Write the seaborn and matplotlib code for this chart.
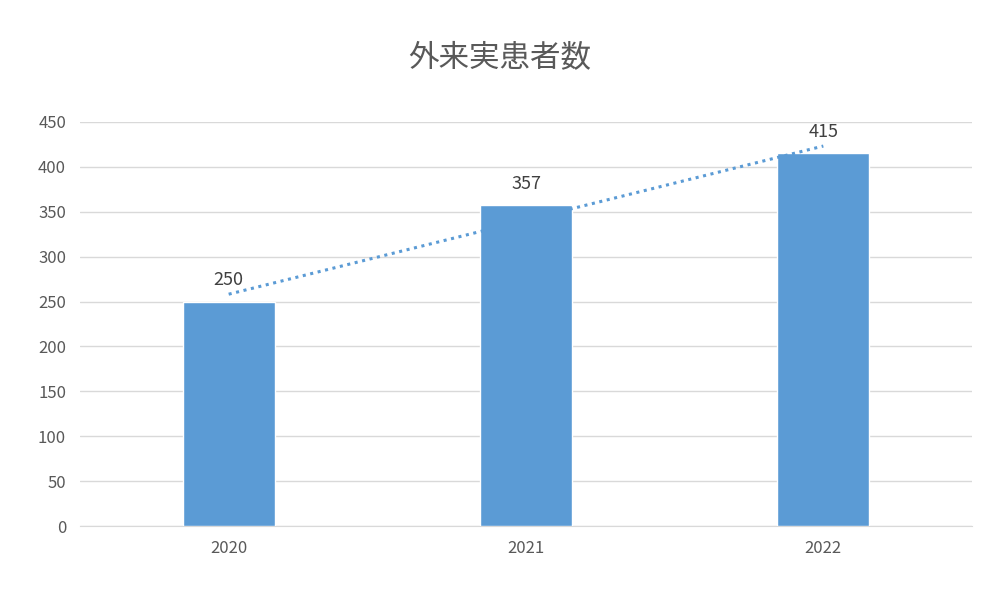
import numpy as np
import pandas as pd
import seaborn as sns
import matplotlib.pyplot as plt

years = ["2020", "2021", "2022"]
patients = [250, 357, 415]

sns.set_style("white")
plt.rcParams['font.family'] = ['Noto Sans CJK JP', 'DejaVu Sans']

df = pd.DataFrame({"year": years, "patients": patients})

fig = plt.figure(figsize=(10, 5.96), dpi=100)
ax = fig.add_axes([0.08, 0.1174, 0.892, 0.678])
sns.barplot(data=df, x="year", y="patients", color="#5B9BD5", width=0.31,
            saturation=1, ax=ax, zorder=3)

# linear trendline
xs = np.arange(len(patients))
k, b = np.polyfit(xs, patients, 1)
ax.plot(xs, k * xs + b, linestyle=(0, (1, 1.5)), color="#5B9BD5", lw=2.2, zorder=4)

for i, v in enumerate(patients):
    ax.text(i, v + 14, str(v), ha="center", va="bottom", fontsize=13, color="#404040", zorder=5)

ax.set_xlim(-0.5, 2.5)
ax.set_ylim(0, 450)
ax.set_yticks(range(0, 451, 50))
ax.yaxis.grid(True, color="#d9d9d9", lw=1, zorder=0)
ax.set_axisbelow(True)
for s in ["top", "right", "left"]:
    ax.spines[s].set_visible(False)
ax.spines["bottom"].set_color("#d9d9d9")
ax.tick_params(axis="both", length=0, labelsize=12, labelcolor="#595959", pad=10)
ax.set_xlabel("")
ax.set_ylabel("")
fig.suptitle("外来実患者数", y=0.93, fontsize=22, color="#595959")

fig.savefig("out.png", dpi=100)
